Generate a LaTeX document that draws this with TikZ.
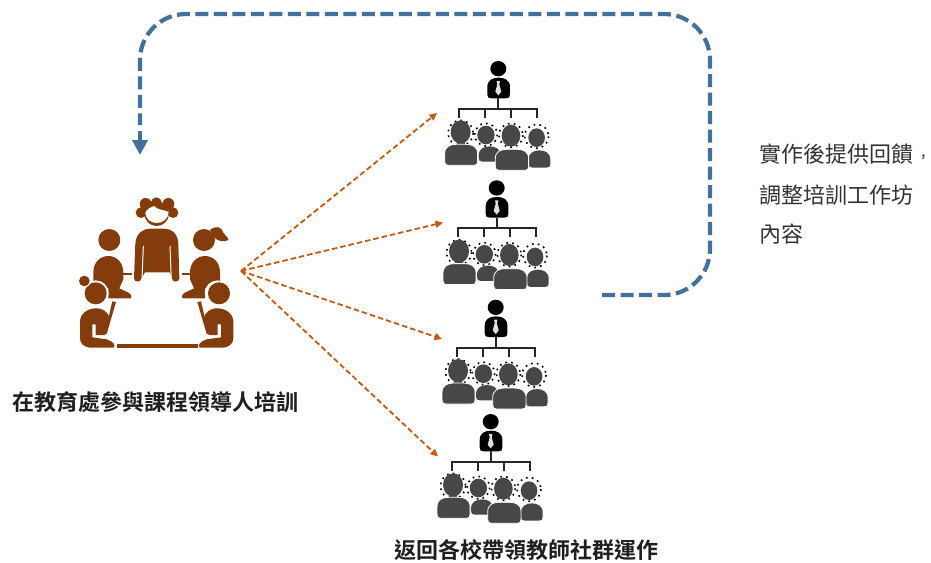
\documentclass[tikz,border=0pt]{standalone}
\usepackage{fontspec}
\usetikzlibrary{arrows.meta}
\newfontfamily\cjkreg{Noto Sans CJK TC}
\newfontfamily\cjkbold{Noto Sans CJK TC Bold}
\definecolor{teamcol}{HTML}{843C0C}
\definecolor{hubcol}{HTML}{C55A11}
\definecolor{loopcol}{HTML}{41719C}
\definecolor{peoplecol}{HTML}{474747}
\tikzset{
  fanline/.style={draw=hubcol,line width=1.8pt,dash pattern=on 5.5pt off 3pt,-{Triangle[width=7pt,length=7.5pt]}},
  loopline/.style={draw=loopcol,line width=4.2pt,dash pattern=on 13pt off 5.5pt,rounded corners=46pt},
  looptip/.style={-{Triangle[width=15pt,length=15pt]}},
  plainlabel/.style={font=\cjkreg\fontsize{22}{22}\selectfont,text=black!80,inner sep=0pt,anchor=west},
  boldlabel/.style={font=\cjkbold\fontsize{22}{22}\selectfont,text=black!88,inner sep=0pt,anchor=west},
  ringline/.style={black,line width=1.6pt,dash pattern=on 1.7pt off 4.2pt},
  treeline/.style={black!85,line width=2.2pt},
}
% xl, xr, ytop, ybot in zoom units: a rounded shoulder body
\newcommand{\pbody}[4]{(#1,#4-12) -- (#1,#3+28) .. controls (#1,#3+7) and (#1+16,#3) .. (#1+34,#3) -- (#2-34,#3) .. controls (#2-16,#3) and (#2,#3+7) .. (#2,#3+28) -- (#2,#4-12) .. controls (#2,#4-3) and (#2-3,#4) .. (#2-12,#4) -- (#1+12,#4) .. controls (#1+3,#4) and (#1,#4-3) .. (#1,#4-12) -- cycle}
% --- one organisation icon; #1,#2 = centre of the top head in px
\newcommand{\orgicon}[2]{%
\begin{scope}[shift={(#1-68.33,#2-18.33)},scale=1/3]
  % leader
  \fill[black] (205,57) ellipse (24 and 23);
  \fill[black] \pbody{172}{240}{84}{146};
  \fill[white!88!black] (200,94) -- (210,94) -- (208,104) -- (214,126) -- (205,137) -- (196,126) -- (202,104) -- cycle;
  % tree
  \draw[treeline] (205,146) -- (205,178);
  \draw[treeline] (88,205) -- (88,178) -- (322,178) -- (322,205);
  \draw[treeline] (166,178) -- (166,205) (244,178) -- (244,205);
  % dotted rings
  \draw[ringline] (92,250) circle (38);
  \draw[ringline] (168,255) circle (34);
  \draw[ringline] (243,257) circle (36);
  \draw[ringline] (320,260) circle (36);
  % people (back row first)
  \fill[peoplecol] \pbody{146}{212}{290}{336};
  \fill[peoplecol] \pbody{296}{361}{302}{354};
  \fill[peoplecol] (168,256) ellipse (26 and 28);
  \fill[peoplecol] (320,264) ellipse (25 and 28);
  \fill[peoplecol] (92,247) ellipse (30 and 35);
  \fill[peoplecol] (80,270) rectangle (104,292);
  \filldraw[fill=peoplecol,draw=white,line width=.8pt] \pbody{44}{143}{284}{347};
  \fill[peoplecol] (243,258) ellipse (28 and 33);
  \filldraw[fill=peoplecol,draw=white,line width=.8pt] \pbody{196}{296}{299}{362};
\end{scope}}
% --- one seated person at the table, left-hand side, zoom coordinates
\newcommand{\sideupper}{%
  \fill[teamcol] (148,180) circle (33);
  \fill[teamcol] (100,325) -- (100,278) .. controls (100,245) and (122,228) .. (145,228) .. controls (170,228) and (190,248) .. (190,278) -- (190,298) -- (178,325) -- (195,333) .. controls (212,338) and (218,350) .. (212,355) -- (145,355) -- (145,325) -- cycle;
  \draw[teamcol,line width=2.6pt] (190,282) -- (215,282);
}
\newcommand{\sidelower}{%
  \fill[white] (107,340) circle (39);
  \fill[teamcol] (60,475) -- (60,425) .. controls (60,400) and (85,385) .. (107,385) .. controls (130,385) and (142,395) .. (150,415) -- (134,465) -- (107,465) -- (107,433) -- (97,433) -- (97,472) -- (140,478) .. controls (160,484) and (170,498) .. (160,503) -- (95,503) .. controls (72,503) and (60,490) .. (60,475) -- cycle;
  \fill[teamcol] (157,364) -- (168,366) -- (140,462) -- (134,462) -- cycle;
}
\begin{document}
\begin{tikzpicture}[x=1pt,y=-1pt]
\useasboundingbox (0,0) rectangle (931,562);

% team icon
\begin{scope}[shift={(60,180)},scale=1/3]
  % woman at head of table
  \fill[teamcol] (290,101) circle (37);
  \fill[teamcol] (243,98) circle (16) (257,72) circle (18) (289,68) circle (16) (325,72) circle (18) (339,98) circle (16);
  \fill[white] (256,98) .. controls (262,86) and (272,82) .. (282,78) .. controls (295,92) and (312,88) .. (326,96) .. controls (326,116) and (308,129) .. (290,129) .. controls (272,129) and (256,116) .. (256,98) -- cycle;
  \fill[teamcol] (222,295) -- (226,190) .. controls (228,160) and (250,146) .. (270,146) -- (310,146) .. controls (335,146) and (353,160) .. (355,190) -- (358,295) .. controls (358,308) and (336,308) .. (336,295) -- (330,277) -- (255,277) -- (244,295) .. controls (244,308) and (222,308) .. (222,295) -- cycle;
  \draw[white,line width=1pt] (250,198) -- (246,300) (330,198) -- (334,300);
  % upper pair
  \sideupper
  \begin{scope}[shift={(580,0)},xscale=-1]\sideupper\end{scope}
  % ponytail on the right woman
  \fill[teamcol] (450,150) .. controls (468,135) and (485,140) .. (490,158) .. controls (498,170) and (508,175) .. (505,180) .. controls (490,188) and (475,182) .. (465,175) -- cycle;
  % lower pair
  \sidelower
  \fill[teamcol] (107,340) circle (33);
  \fill[white] (73,303) circle (19);
  \fill[teamcol] (73,303) circle (16);
  \begin{scope}[shift={(580,0)},xscale=-1]\sidelower\fill[teamcol] (103,340) circle (33);\end{scope}
  % table edge
  \fill[teamcol] (172,493) rectangle (413,503);
\end{scope}

% organisation icons
\orgicon{498.3}{68}
\orgicon{496.7}{187.3}
\orgicon{495.7}{306.7}
\orgicon{490.7}{421}

% connectors
\coordinate (hub) at (241,271);
\coordinate (org1in) at (437,113);
\coordinate (org2in) at (443,222.5);
\coordinate (org3in) at (442,339);
\coordinate (org4in) at (438,456.5);
\draw[fanline] (hub) -- (org1in);
\draw[fanline] (hub) -- (org2in);
\draw[fanline] (hub) -- (org3in);
\draw[fanline] (hub) -- (org4in);

\coordinate (loopstart) at (602,295);
\coordinate (loopbr) at (710,295);
\coordinate (looptr) at (710,14);
\coordinate (looptl) at (140,14);
\coordinate (loopjoin) at (140,125);
\coordinate (loopend) at (140,155);
\draw[loopline] (loopstart) -- (loopbr) -- (looptr) -- (looptl) -- (loopjoin);
\draw[draw=loopcol,line width=4.2pt,looptip] (loopjoin) ++(0,6) -- (loopend);

% labels
\node[boldlabel] (teamlabel) at (12,402.5) {在教育處參與課程領導人培訓};
\node[boldlabel] (orglabel) at (394.5,550.5) {返回各校帶領教師社群運作};
\node[plainlabel] (note1) at (759,154) {實作後提供回饋\hspace{3pt}{\fontsize{14.5}{14.5}\selectfont ，}};
\node[plainlabel] (note2) at (759,195) {調整培訓工作坊};
\node[plainlabel] (note3) at (759,234.5) {內容};
\end{tikzpicture}
\end{document}
